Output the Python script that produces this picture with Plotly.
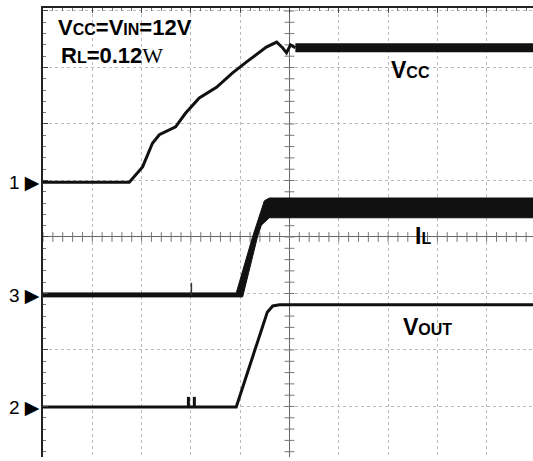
import numpy as np
import plotly.graph_objects as go

# scope screen in divisions, origin at the centre of the graticule
# channel 1: Vcc start-up
vcc_t = [-5.0, -3.25, -2.98, -2.78, -2.64, -2.31, -2.11, -1.83, -1.48, -1.16,
         -0.87, -0.47, -0.26, -0.14, -0.06, 0.02, 0.12]
vcc_v = [0.97, 0.97, 1.24, 1.66, 1.81, 1.95, 2.19, 2.46, 2.65, 2.90,
         3.10, 3.36, 3.45, 3.35, 3.26, 3.40, 3.35]
vcc_flat_t = [0.12, 4.94]
vcc_flat_v = [3.35, 3.35]

# channel 3: inductor current (ripple band, upper and lower envelope)
il_up_t = [-5.0, -1.08, -0.75, -0.61, -0.51, -0.41, 4.94]
il_up_v = [-0.99, -0.99, 0.0, 0.39, 0.64, 0.69, 0.69]
il_lo_t = [4.94, -0.41, -0.57, -0.65, -0.95, -5.0]
il_lo_v = [0.34, 0.34, 0.21, 0.0, -1.06, -1.06]
il_spike_t = [-1.99, -1.99]
il_spike_v = [-1.03, -0.81]

# channel 2: output voltage
vout_t = [-5.0, -1.08, -0.57, -0.45, -0.34, -0.20, 4.94]
vout_v = [-3.01, -3.01, -1.65, -1.33, -1.22, -1.20, -1.20]
vout_spike_t = [-2.05, -1.93]
vout_spike_v = [-2.83, -2.83]
vout_base = -3.01

ch_names = ["1", "3", "2"]
ch_levels = [0.97, -1.03, -3.01]

ink = "#111111"
fig = go.Figure()

# graticule ticks along the centre crosshair
minor = np.arange(-5, 5.01, 0.2)
fig.add_trace(go.Scatter(x=minor, y=np.zeros_like(minor), mode="markers",
                         marker=dict(symbol="line-ns", size=7, line=dict(width=1, color="#777")),
                         hoverinfo="skip"))
minor_y = np.arange(-4, 4.01, 0.2)
fig.add_trace(go.Scatter(x=np.zeros_like(minor_y), y=minor_y, mode="markers",
                         marker=dict(symbol="line-ew", size=7, line=dict(width=1, color="#777")),
                         hoverinfo="skip"))

# IL band
fig.add_trace(go.Scatter(x=il_up_t + il_lo_t, y=il_up_v + il_lo_v, mode="lines",
                         fill="toself", fillcolor=ink, line=dict(color=ink, width=1)))
fig.add_trace(go.Scatter(x=il_spike_t, y=il_spike_v, mode="lines",
                         line=dict(color="#333", width=1.5)))

# Vcc
fig.add_trace(go.Scatter(x=vcc_t, y=vcc_v, mode="lines", line=dict(color=ink, width=3)))
fig.add_trace(go.Scatter(x=vcc_flat_t, y=vcc_flat_v, mode="lines", line=dict(color=ink, width=9)))

# Vout
fig.add_trace(go.Scatter(x=vout_t, y=vout_v, mode="lines", line=dict(color=ink, width=3)))
for t, v in zip(vout_spike_t, vout_spike_v):
    fig.add_trace(go.Scatter(x=[t, t], y=[vout_base, v], mode="lines",
                             line=dict(color=ink, width=3)))

big = dict(family="Liberation Sans, Arial", size=23, color="black")
sc = "<span style='font-size:16px'>%s</span>"
fig.add_annotation(x=-4.73, y=3.70, xanchor="left", showarrow=False,
                   font=dict(big, size=22),
                   text="<b>V" + sc % "CC" + "=V" + sc % "IN" + "=12V</b>")
fig.add_annotation(x=-4.67, y=3.22, xanchor="left", showarrow=False,
                   font=dict(big, size=22),
                   text="<b>R" + sc % "L" + "=0.12</b><span style='font-family:Liberation Serif'>W</span>")
fig.add_annotation(x=2.45, y=2.96, showarrow=False, font=big,
                   text="<b>V" + sc % "CC" + "</b>")
fig.add_annotation(x=2.70, y=0.02, showarrow=False, font=big,
                   text="<b>I" + sc % "L" + "</b>")
fig.add_annotation(x=2.80, y=-1.59, showarrow=False, font=big,
                   text="<b>V" + sc % "OUT" + "</b>")

for name, lvl in zip(ch_names, ch_levels):
    fig.add_annotation(x=-5, y=lvl, xanchor="right", xshift=-1, showarrow=False,
                       font=dict(family="Liberation Sans", size=19, color="black"),
                       text=name + " <span style='font-family:DejaVu Sans;font-size:19px'>▶</span>")

grid = dict(showgrid=True, gridcolor="#bbbbbb", griddash="dot", gridwidth=1,
            dtick=1, showticklabels=False, zeroline=True, zerolinecolor="#666",
            zerolinewidth=1, showline=True, linecolor="#222", linewidth=2,
            ticks="inside", ticklen=5, tickcolor="#444",
            minor=dict(dtick=0.2, ticks="inside", ticklen=3, tickcolor="#777", showgrid=False))

fig.update_layout(
    width=533, height=461,
    margin=dict(l=43, r=0, t=8, b=4),
    paper_bgcolor="white", plot_bgcolor="white",
    showlegend=False,
    xaxis=dict(range=[-5, 4.94], side="top", tick0=0, **grid),
    yaxis=dict(range=[-3.894, 4.053], tick0=0, **grid),
)

fig.write_html("out.html", config={"displayModeBar": False},
               post_script="document.body.style.margin='0';")
